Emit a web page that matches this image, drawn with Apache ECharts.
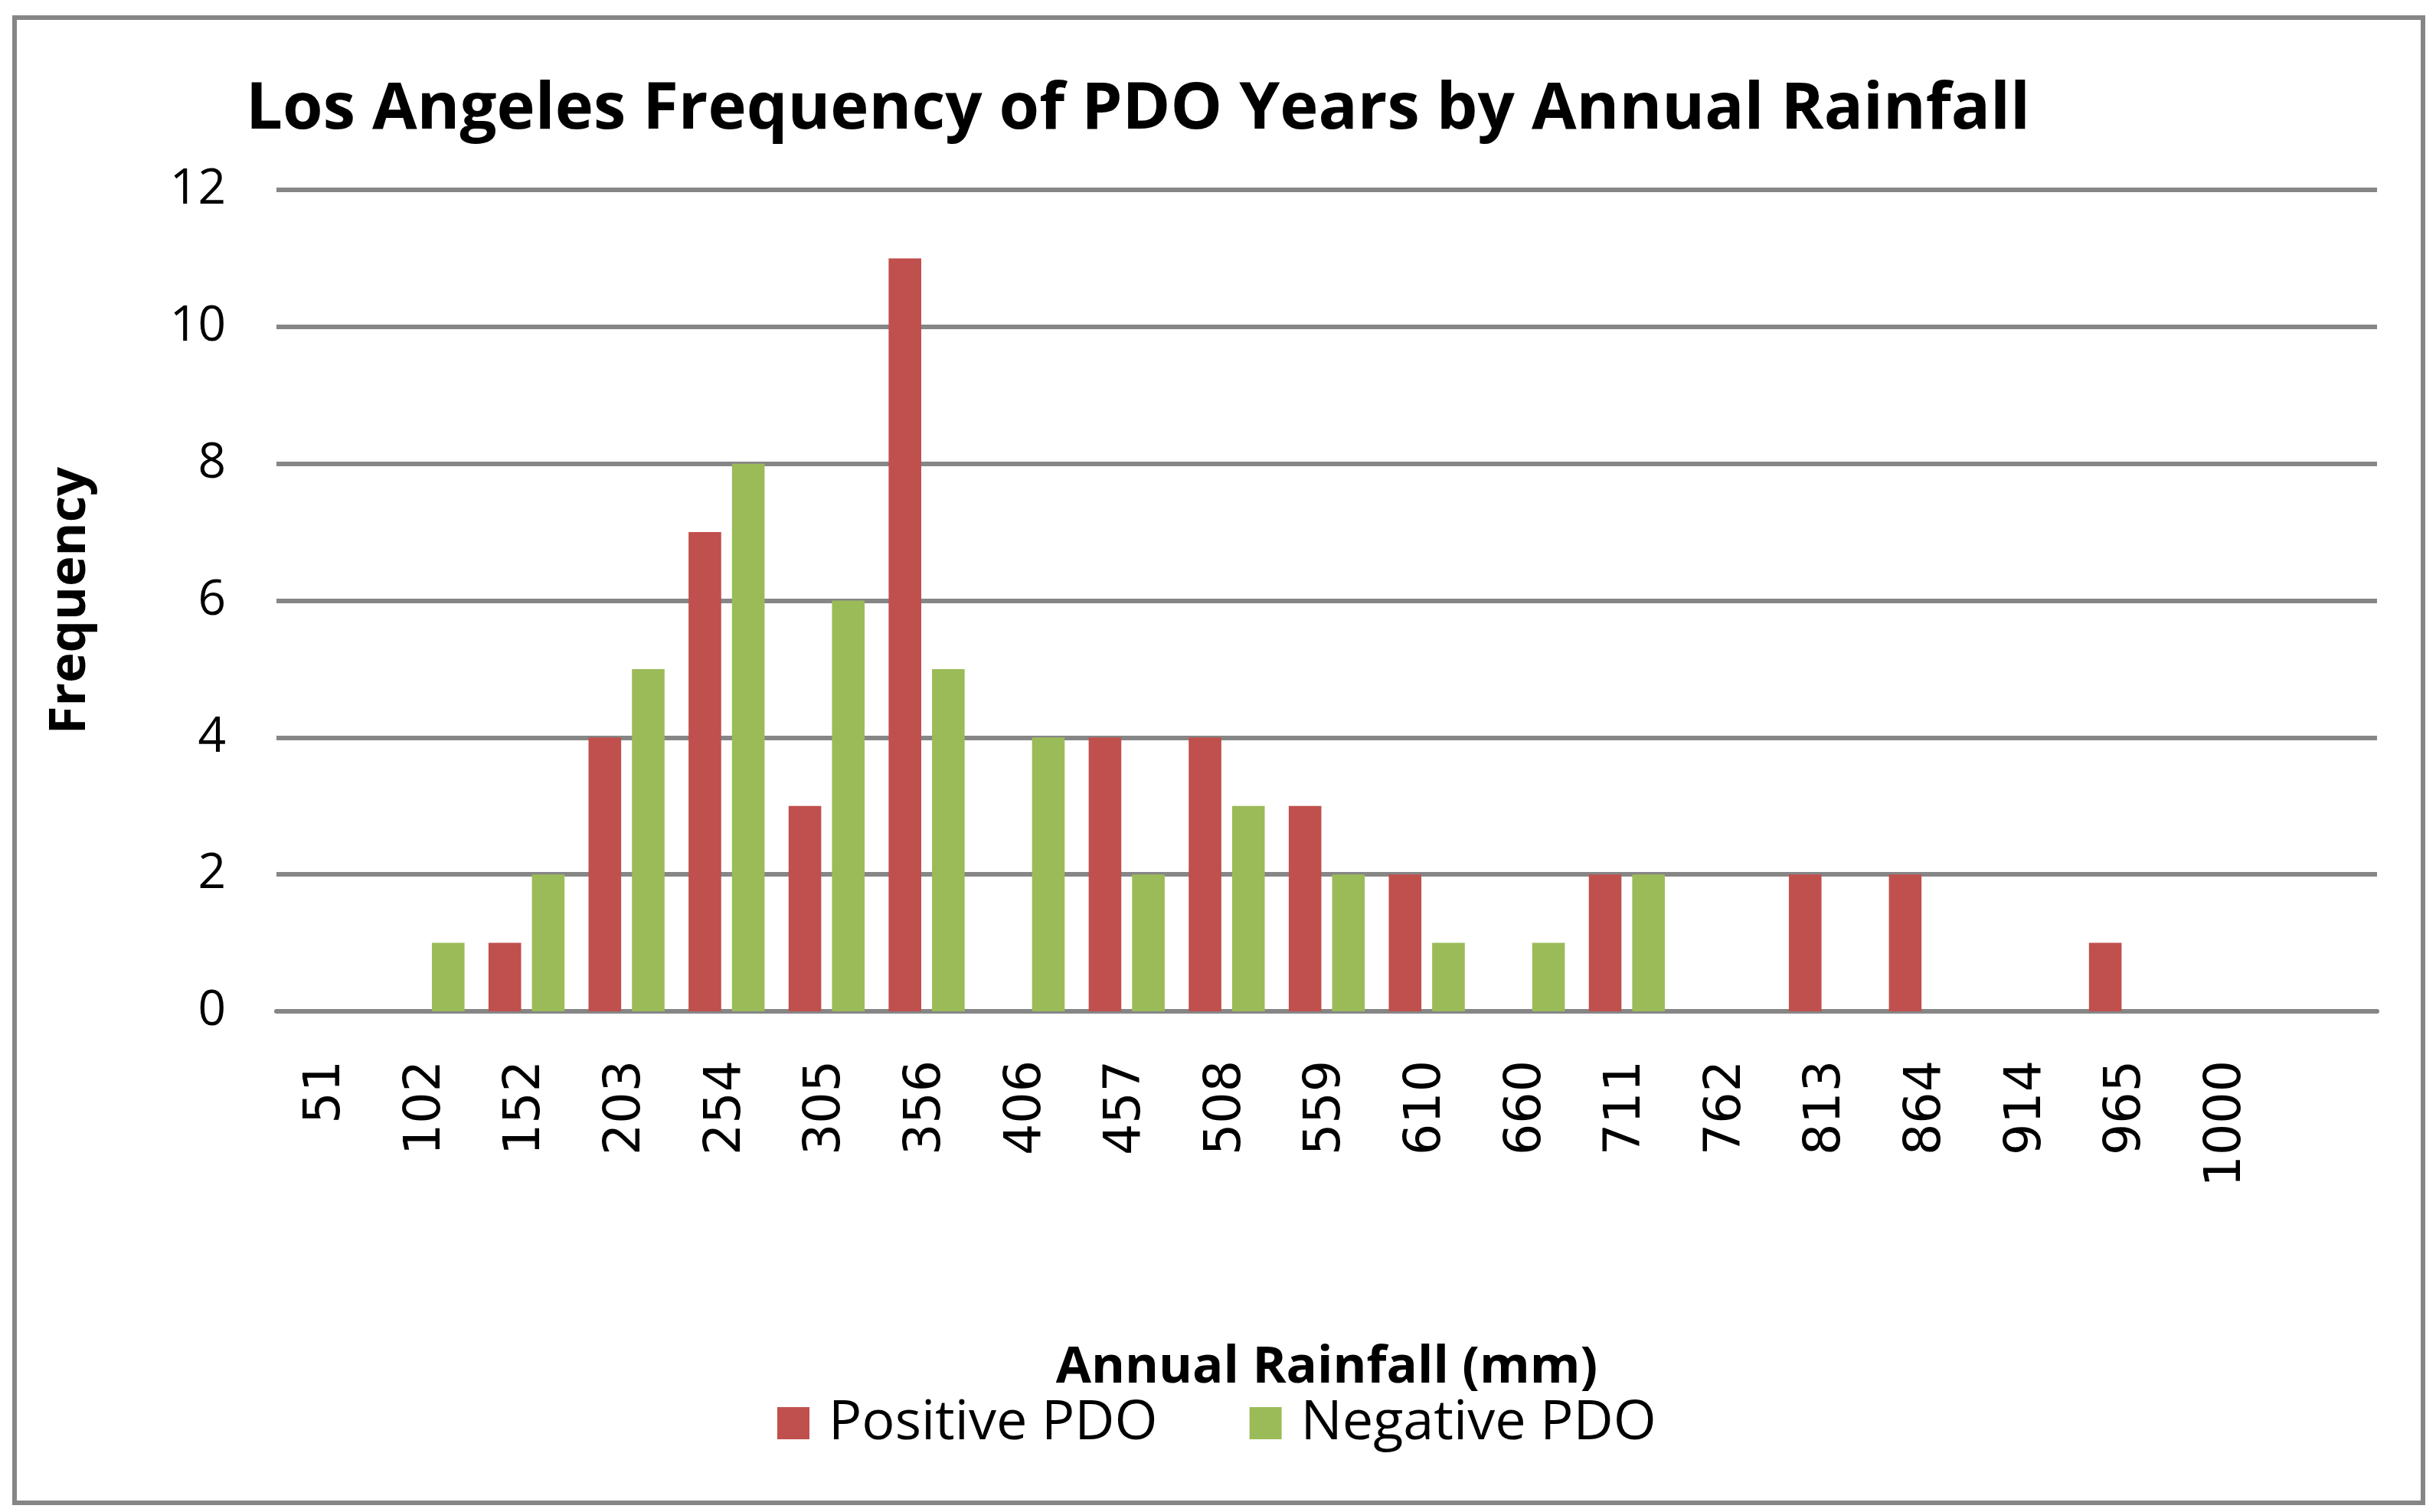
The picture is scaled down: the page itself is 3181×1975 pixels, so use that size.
<!DOCTYPE html>
<html>
<head>
<meta charset="utf-8">
<script src="https://cdn.jsdelivr.net/npm/echarts@6/dist/echarts.min.js"></script>
<style>
html,body{margin:0;padding:0;background:#fff;}
#chart{width:3181px;height:1975px;}
</style>
</head>
<body>
<div id="chart"></div>
<script>
const categories = ['51','102','152','203','254','305','356','406','457','508','559','610','660','711','762','813','864','914','965','1000',''];
const positivePDO = [0,0,1,4,7,3,11,0,4,4,3,2,0,2,0,2,2,0,1,0,0];
const negativePDO = [0,1,2,5,8,6,5,4,2,3,2,1,1,2,0,0,0,0,0,0,0];
const yTicks = {min:0, max:12, interval:2};

const chart = echarts.init(document.getElementById('chart'), null, {renderer:'canvas'});
const gray = '#868686';
const option = {
  backgroundColor:'#ffffff',
  animation:false,
  title:{
    text:'Los Angeles Frequency of PDO Years by Annual Rainfall',
    left:316, top:96,
    textStyle:{fontFamily:'Open Sans', fontWeight:'bold', fontSize:85, color:'#000'}
  },
  graphic:[{
    type:'rect', left:16, top:20, silent:true,
    shape:{x:0,y:0,width:3145,height:1940},
    style:{fill:'none', stroke:gray, lineWidth:6}
  }],
  legend:{
    data:['Positive PDO','Negative PDO'],
    left:1010, top:1818,
    itemWidth:42, itemHeight:42, itemGap:120,
    icon:'rect',
    textStyle:{fontFamily:'Open Sans', fontSize:72, color:'#000', padding:[0,0,0,20]}
  },
  grid:{left:361, right:77, top:248, bottom:654},
  xAxis:{
    type:'category',
    data:categories,
    name:'Annual Rainfall (mm)',
    nameLocation:'middle',
    nameGap:432,
    nameTextStyle:{fontFamily:'Open Sans', fontWeight:'bold', fontSize:67, color:'#000'},
    axisLine:{show:true, lineStyle:{color:gray, width:6}},
    axisTick:{show:false},
    axisLabel:{rotate:90, margin:64, fontFamily:'DejaVu Sans', fontSize:65, color:'#000', interval:0}
  },
  yAxis:{
    type:'value',
    min:yTicks.min, max:yTicks.max, interval:yTicks.interval,
    name:'Frequency',
    nameLocation:'middle',
    nameRotate:90,
    nameGap:236,
    nameTextStyle:{fontFamily:'Open Sans', fontWeight:'bold', fontSize:67, color:'#000'},
    axisLine:{show:false},
    axisTick:{show:false},
    axisLabel:{margin:66, fontFamily:'Open Sans', fontSize:64, color:'#000'},
    splitLine:{show:true, lineStyle:{color:gray, width:6}}
  },
  series:[
    {name:'Positive PDO', type:'bar', data:positivePDO, itemStyle:{color:'#C0504D'}, barGap:'33%', barCategoryGap:'24%'},
    {name:'Negative PDO', type:'bar', data:negativePDO, itemStyle:{color:'#9BBB59'}, barGap:'33%', barCategoryGap:'24%'}
  ]
};
chart.setOption(option);
</script>
</body>
</html>
